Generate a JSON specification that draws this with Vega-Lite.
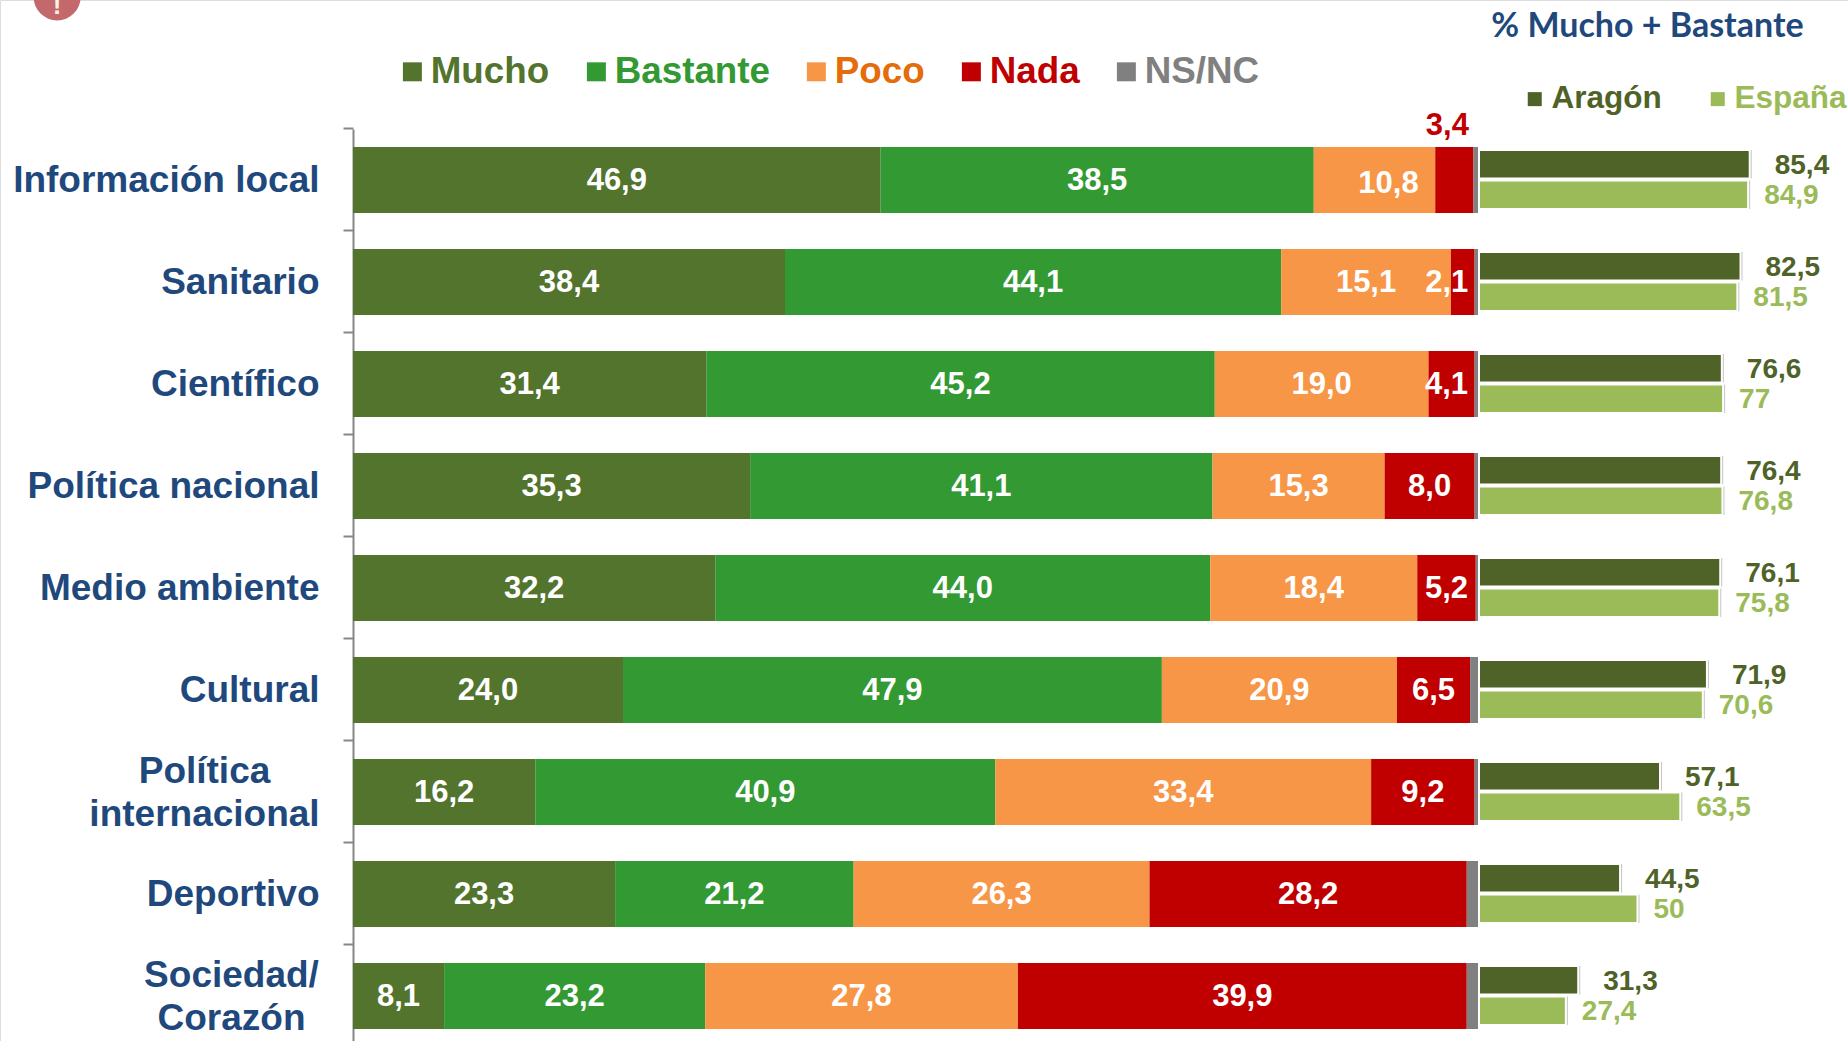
{"$schema":"https://vega.github.io/schema/vega-lite/v6.json","width":1848,"height":1041,"autosize":{"type":"none"},"padding":0,"background":"white",
"datasets":{"main":[
{"medio":"Información local","resp":"Mucho","orden":1,"v":46.9},{"medio":"Información local","resp":"Bastante","orden":2,"v":38.5},{"medio":"Información local","resp":"Poco","orden":3,"v":10.8},{"medio":"Información local","resp":"Nada","orden":4,"v":3.4},{"medio":"Información local","resp":"NS/NC","orden":5,"v":0.4},
{"medio":"Sanitario","resp":"Mucho","orden":1,"v":38.4},{"medio":"Sanitario","resp":"Bastante","orden":2,"v":44.1},{"medio":"Sanitario","resp":"Poco","orden":3,"v":15.1},{"medio":"Sanitario","resp":"Nada","orden":4,"v":2.1},{"medio":"Sanitario","resp":"NS/NC","orden":5,"v":0.3},
{"medio":"Científico","resp":"Mucho","orden":1,"v":31.4},{"medio":"Científico","resp":"Bastante","orden":2,"v":45.2},{"medio":"Científico","resp":"Poco","orden":3,"v":19.0},{"medio":"Científico","resp":"Nada","orden":4,"v":4.1},{"medio":"Científico","resp":"NS/NC","orden":5,"v":0.3},
{"medio":"Política nacional","resp":"Mucho","orden":1,"v":35.3},{"medio":"Política nacional","resp":"Bastante","orden":2,"v":41.1},{"medio":"Política nacional","resp":"Poco","orden":3,"v":15.3},{"medio":"Política nacional","resp":"Nada","orden":4,"v":8.0},{"medio":"Política nacional","resp":"NS/NC","orden":5,"v":0.3},
{"medio":"Medio ambiente","resp":"Mucho","orden":1,"v":32.2},{"medio":"Medio ambiente","resp":"Bastante","orden":2,"v":44.0},{"medio":"Medio ambiente","resp":"Poco","orden":3,"v":18.4},{"medio":"Medio ambiente","resp":"Nada","orden":4,"v":5.2},{"medio":"Medio ambiente","resp":"NS/NC","orden":5,"v":0.2},
{"medio":"Cultural","resp":"Mucho","orden":1,"v":24.0},{"medio":"Cultural","resp":"Bastante","orden":2,"v":47.9},{"medio":"Cultural","resp":"Poco","orden":3,"v":20.9},{"medio":"Cultural","resp":"Nada","orden":4,"v":6.5},{"medio":"Cultural","resp":"NS/NC","orden":5,"v":0.7},
{"medio":"Política internacional","resp":"Mucho","orden":1,"v":16.2},{"medio":"Política internacional","resp":"Bastante","orden":2,"v":40.9},{"medio":"Política internacional","resp":"Poco","orden":3,"v":33.4},{"medio":"Política internacional","resp":"Nada","orden":4,"v":9.2},{"medio":"Política internacional","resp":"NS/NC","orden":5,"v":0.3},
{"medio":"Deportivo","resp":"Mucho","orden":1,"v":23.3},{"medio":"Deportivo","resp":"Bastante","orden":2,"v":21.2},{"medio":"Deportivo","resp":"Poco","orden":3,"v":26.3},{"medio":"Deportivo","resp":"Nada","orden":4,"v":28.2},{"medio":"Deportivo","resp":"NS/NC","orden":5,"v":1.0},
{"medio":"Sociedad/ Corazón","resp":"Mucho","orden":1,"v":8.1},{"medio":"Sociedad/ Corazón","resp":"Bastante","orden":2,"v":23.2},{"medio":"Sociedad/ Corazón","resp":"Poco","orden":3,"v":27.8},{"medio":"Sociedad/ Corazón","resp":"Nada","orden":4,"v":39.9},{"medio":"Sociedad/ Corazón","resp":"NS/NC","orden":5,"v":1.0}],
"suma":[
{"medio":"Información local","zona":"Aragón","p":85.4},{"medio":"Información local","zona":"España","p":84.9},
{"medio":"Sanitario","zona":"Aragón","p":82.5},{"medio":"Sanitario","zona":"España","p":81.5},
{"medio":"Científico","zona":"Aragón","p":76.6},{"medio":"Científico","zona":"España","p":77},
{"medio":"Política nacional","zona":"Aragón","p":76.4},{"medio":"Política nacional","zona":"España","p":76.8},
{"medio":"Medio ambiente","zona":"Aragón","p":76.1},{"medio":"Medio ambiente","zona":"España","p":75.8},
{"medio":"Cultural","zona":"Aragón","p":71.9},{"medio":"Cultural","zona":"España","p":70.6},
{"medio":"Política internacional","zona":"Aragón","p":57.1},{"medio":"Política internacional","zona":"España","p":63.5},
{"medio":"Deportivo","zona":"Aragón","p":44.5},{"medio":"Deportivo","zona":"España","p":50},
{"medio":"Sociedad/ Corazón","zona":"Aragón","p":31.3},{"medio":"Sociedad/ Corazón","zona":"España","p":27.4}]},
"resolve":{"scale":{"x":"independent","color":"independent"},"axis":{"x":"independent"}},
"layer":[
{"layer":[
{"data":{"name":"main"},"mark":{"type":"bar"},
"encoding":{
"y":{"field":"medio","type":"nominal","title":null,"sort":null,
"scale":{"domain":["Información local","Sanitario","Científico","Política nacional","Medio ambiente","Cultural","Política internacional","Deportivo","Sociedad/ Corazón"],"range":[129,1047],"paddingInner":0.353,"paddingOuter":0.1765},
"axis":{"offset":-353,"bandPosition":-0.273,"domainColor":"#868686","domainWidth":2,"tickColor":"#868686","tickWidth":2,"tickSize":10,"grid":false,"labelFont":"Liberation Sans","labelFontWeight":"bold","labelFontSize":37,"labelColor":"#1F497D","labelLimit":400,"labelLineHeight":43,"labelOffset":{"expr":"datum.value=='Política internacional'||datum.value=='Sociedad/ Corazón'?-20:1"},"labelPadding":{"expr":"datum.value=='Política internacional'?139:datum.value=='Sociedad/ Corazón'?112:24"},"labelAlign":{"expr":"datum.value=='Política internacional'||datum.value=='Sociedad/ Corazón'?'center':'right'"},"labelExpr":"datum.value=='Política internacional'?['Política','internacional']:datum.value=='Sociedad/ Corazón'?['Sociedad/','Corazón']:datum.value"}},
"x":{"field":"v","type":"quantitative","stack":"zero","scale":{"domain":[0,100],"range":[353,1478]},"axis":null},
"order":{"field":"orden"},
"color":{"field":"resp","type":"nominal","scale":{"domain":["Mucho","Bastante","Poco","Nada","NS/NC"],"range":["#53742D","#339933","#F79646","#C00000","#808080"]},
"legend":{"orient":"none","legendX":394,"legendY":53,"direction":"horizontal","columns":5,"title":null,"symbolType":"square","symbolSize":360,"symbolStrokeWidth":0,"symbolOpacity":1,"labelFont":"Liberation Sans","labelFontWeight":"bold","labelFontSize":36.75,"labelOffset":0,"columnPadding":28,"labelLimit":300,
"labelColor":{"expr":"datum.value=='Mucho'?'#53742D':datum.value=='Bastante'?'#339933':datum.value=='Poco'?'#E46C0A':datum.value=='Nada'?'#C00000':'#808080'"}}}}},
{"data":{"values":[{"icono":"!","pos":-26.3}]},"mark":{"type":"point","filled":true,"shape":"circle","size":2206,"fill":"#C4696B","opacity":1,"stroke":null},
"encoding":{"x":{"field":"pos","type":"quantitative","axis":null},"y":{"value":-3}}},
{"data":{"values":[{"icono":"!","pos":-26.3}]},"mark":{"type":"text","font":"Liberation Sans","fontWeight":"bold","fontSize":26,"fill":"#FFF4E8"},
"encoding":{"x":{"field":"pos","type":"quantitative","axis":null},"y":{"value":6},"text":{"field":"icono"}}},
{"data":{"name":"main"},
"transform":[{"stack":"v","groupby":["medio"],"sort":[{"field":"orden"}],"as":["a","b"]},{"calculate":"(datum.a+datum.b)/2","as":"mid"},{"calculate":"replace(format(datum.v,'.1f'),'.',',')","as":"txt"}],
"layer":[
{"transform":[{"filter":"datum.resp!='NS/NC' && !(datum.medio=='Información local' && (datum.resp=='Poco'||datum.resp=='Nada')) && !(datum.resp=='Nada' && (datum.medio=='Sanitario'||datum.medio=='Científico'))"}],
"mark":{"type":"text","font":"Liberation Sans","fontWeight":"bold","fontSize":31,"fill":"white","dy":1},
"encoding":{"y":{"field":"medio","type":"nominal","sort":null},"x":{"field":"mid","type":"quantitative","axis":null},"text":{"field":"txt"}}},
{"transform":[{"filter":"datum.medio=='Información local' && datum.resp=='Poco'"}],
"mark":{"type":"text","font":"Liberation Sans","fontWeight":"bold","fontSize":31,"fill":"white","dx":14,"dy":4},
"encoding":{"y":{"field":"medio","type":"nominal","sort":null},"x":{"field":"mid","type":"quantitative","axis":null},"text":{"field":"txt"}}},
{"transform":[{"filter":"datum.medio=='Información local' && datum.resp=='Nada'"}],
"mark":{"type":"text","font":"Liberation Sans","fontWeight":"bold","fontSize":31,"fill":"#C00000","dx":-7,"dy":-54},
"encoding":{"y":{"field":"medio","type":"nominal","sort":null},"x":{"field":"mid","type":"quantitative","axis":null},"text":{"field":"txt"}}},
{"transform":[{"filter":"datum.medio=='Sanitario' && datum.resp=='Nada'"}],
"mark":{"type":"text","font":"Liberation Sans","fontWeight":"bold","fontSize":31,"fill":"white","dx":-16,"dy":1},
"encoding":{"y":{"field":"medio","type":"nominal","sort":null},"x":{"field":"mid","type":"quantitative","axis":null},"text":{"field":"txt"}}},
{"transform":[{"filter":"datum.medio=='Científico' && datum.resp=='Nada'"}],
"mark":{"type":"text","font":"Liberation Sans","fontWeight":"bold","fontSize":31,"fill":"white","dx":-5,"dy":1},
"encoding":{"y":{"field":"medio","type":"nominal","sort":null},"x":{"field":"mid","type":"quantitative","axis":null},"text":{"field":"txt"}}}
]}
]},
{"data":{"name":"suma"},
"transform":[{"calculate":"replace(format(datum.p,'.1~f'),'.',',')","as":"txt"}],
"layer":[
{"mark":{"type":"bar","fill":"#7F7F7F","opacity":0.45,"yOffset":4,"xOffset":2,"stroke":null},
"encoding":{"y":{"field":"medio","type":"nominal","sort":null},"yOffset":{"field":"zona","type":"nominal","scale":{"domain":["Aragón","España"],"range":[3,62],"paddingInner":0.07,"paddingOuter":0}},
"x":{"field":"p","type":"quantitative","scale":{"domain":[0,100],"range":[1479,1796]},"axis":{"orient":"top","title":"% Mucho + Bastante","labels":false,"ticks":false,"domain":false,"grid":false,"titleX":1647,"titleY":36,"titleFont":"Lato","titleFontWeight":"bold","titleFontSize":34,"titleColor":"#1F497D","titleAlign":"center","titleBaseline":"alphabetic"}}}},
{"mark":{"type":"bar","stroke":"white","strokeWidth":2},
"encoding":{"y":{"field":"medio","type":"nominal","sort":null},"yOffset":{"field":"zona","type":"nominal"},
"x":{"field":"p","type":"quantitative"},
"color":{"field":"zona","type":"nominal","scale":{"domain":["Aragón","España"],"range":["#4F6228","#9BBB59"]},
"legend":{"orient":"none","legendX":1519,"legendY":83,"direction":"horizontal","columns":2,"title":null,"symbolType":"square","symbolSize":196,"symbolStrokeWidth":0,"labelFont":"Liberation Sans","labelFontWeight":"bold","labelFontSize":31.5,"labelOffset":1,"columnPadding":40,"labelLimit":300,"labelColor":{"expr":"datum.value=='Aragón'?'#4F6228':'#9BBB59'"}}}}},
{"transform":[{"filter":"datum.zona=='Aragón'"}],"mark":{"type":"text","align":"left","font":"Liberation Sans","fontWeight":"bold","fontSize":28,"fill":"#4F6228","dx":25,"dy":-14},
"encoding":{"y":{"field":"medio","type":"nominal","sort":null},"x":{"field":"p","type":"quantitative"},"text":{"field":"txt"}}},
{"transform":[{"filter":"datum.zona=='España'"}],"mark":{"type":"text","align":"left","font":"Liberation Sans","fontWeight":"bold","fontSize":28,"fill":"#9BBB59","dx":16,"dy":16},
"encoding":{"y":{"field":"medio","type":"nominal","sort":null},"x":{"field":"p","type":"quantitative"},"text":{"field":"txt"}}}
]}
]}
